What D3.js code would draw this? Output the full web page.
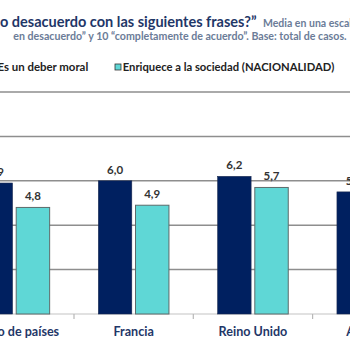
<!DOCTYPE html>
<html><head><meta charset="utf-8">
<script src="https://cdn.jsdelivr.net/npm/d3@7"></script>
<style>html,body{margin:0;padding:0;background:#fff;overflow:hidden}svg{display:block}</style>
</head><body>
<svg id="c" width="350" height="350"></svg>
<script>
const categories = ["Grupo de países", "Francia", "Reino Unido", "Alemania"];
const seriesNames = ["Es un deber moral", "Enriquece a la sociedad (NACIONALIDAD)"];
const deberMoral = [5.9, 6.0, 6.2, 5.5];
const enriquece = [4.8, 4.9, 5.7, null];
const yTicks = [0, 2, 4, 6, 8, 10];
const titleText = "o desacuerdo con las siguientes frases?”";
const subtitle1 = "Media en una escala";
const subtitle2 = "en desacuerdo” y 10 “completamente de acuerdo”. Base: total de casos.";

const colors = ["#002060", "#5fd7d6"];
const FONT = "Lato, 'Open Sans', sans-serif";

const svg = d3.select("#c");
const W = 350;

function fit(sel, target) {
  const node = sel.node();
  const fs = parseFloat(sel.attr("font-size"));
  const len = node.getComputedTextLength();
  sel.attr("font-size", (fs * target / len).toFixed(2));
  return sel;
}

// scales
const step = 119.3;
const x0 = d3.scaleBand().domain(categories).range([14.35 - step / 2, 14.35 - step / 2 + step * categories.length]).padding(0);
const y = d3.scaleLinear().domain([0, 10]).range([314, 92]);
const groupW = 70.6;
const x1 = d3.scaleBand().domain([0, 1]).range([0, groupW]).paddingInner(0.1).paddingOuter(0);

// gridlines
svg.append("g").selectAll("line").data(yTicks.filter(d => d > 0)).join("line")
  .attr("x1", 0).attr("x2", W)
  .attr("y1", d => y(d)).attr("y2", d => y(d))
  .attr("stroke", "#8e8e8e").attr("stroke-width", 1.5);

// baseline axis with category tick marks
const xAxis = d3.axisBottom(x0).tickSize(0).tickFormat("");
const axG = svg.append("g").attr("transform", `translate(0,${y(0)})`).call(xAxis);
axG.select(".domain").attr("stroke", "#c4c4c4").attr("stroke-width", 1.2).attr("d", `M0,0H${W}`);
const bounds = categories.slice(1).map(c => x0(c));
axG.selectAll(".sep").data(bounds).join("line").attr("class", "sep")
  .attr("x1", d => d).attr("x2", d => d).attr("y1", 0).attr("y2", 5)
  .attr("stroke", "#b8b8b8").attr("stroke-width", 1.2);

// bars
const rows = categories.map((c, i) => ({ c, vals: [deberMoral[i], enriquece[i]] }));
const g = svg.append("g");
rows.forEach(r => {
  const gx = x0(r.c) + x0.bandwidth() / 2 - groupW / 2;
  r.vals.forEach((v, s) => {
    if (v == null) return;
    const bx = gx + x1(s);
    g.append("rect")
      .attr("x", bx).attr("y", y(v))
      .attr("width", x1.bandwidth()).attr("height", y(0) - y(v))
      .attr("fill", colors[s])
      .attr("stroke", s === 0 ? "#1a2a50" : "#5c6b6b").attr("stroke-width", s === 0 ? 0.6 : 1);
    g.append("text")
      .attr("x", bx + x1.bandwidth() / 2).attr("y", y(v) - 7)
      .attr("text-anchor", "middle").attr("font-family", FONT).attr("font-weight", "bold")
      .attr("font-size", 11.5).attr("fill", "#333")
      .text(d3.format(".1f")(v).replace(".", ","));
  });
});

// category labels
const catLabels = svg.append("g").selectAll("text").data(categories).join("text")
  .attr("x", d => x0(d) + x0.bandwidth() / 2).attr("y", 336)
  .attr("text-anchor", "middle").attr("font-family", FONT).attr("font-weight", "bold")
  .attr("font-size", 12.5).attr("fill", "#1f3768")
  .text(d => d);
{
  const ref = catLabels.filter(d => d === "Reino Unido");
  const len = ref.node().getComputedTextLength();
  catLabels.attr("font-size", (12.5 * 68.7 / len).toFixed(2));
}

// legend
const lg = svg.append("g");
lg.append("rect").attr("x", -12).attr("y", 64).attr("width", 6).attr("height", 6)
  .attr("fill", colors[0]).attr("stroke", "#333").attr("stroke-width", 0.8);
const l1 = lg.append("text").attr("x", -2.5).attr("y", 70.5)
  .attr("font-family", FONT).attr("font-weight", "bold").attr("font-size", 11).attr("fill", "#222")
  .text(seriesNames[0]);
fit(l1, 90.8);
lg.append("rect").attr("x", 115).attr("y", 64).attr("width", 6).attr("height", 6)
  .attr("fill", colors[1]).attr("stroke", "#333").attr("stroke-width", 0.8);
const l2 = lg.append("text").attr("x", 122.7).attr("y", 70.5)
  .attr("font-family", FONT).attr("font-weight", "bold").attr("font-size", 11).attr("fill", "#222")
  .text(seriesNames[1]);
fit(l2, 211.6);

// title
const t = svg.append("text").attr("x", 0).attr("y", 27)
  .attr("font-family", FONT).attr("font-weight", "bold").attr("font-size", 16).attr("fill", "#1f3768")
  .text(titleText);
fit(t, 256.7);
svg.append("text").attr("x", 263).attr("y", 26.5)
  .attr("font-family", FONT).attr("font-weight", "bold").attr("font-size", 10.5).attr("fill", "#6b7c98")
  .text(subtitle1);
const s2 = svg.append("text").attr("x", 13.3).attr("y", 39.5)
  .attr("font-family", FONT).attr("font-weight", "bold").attr("font-size", 10.5).attr("fill", "#6b7c98")
  .text(subtitle2);
fit(s2, 333.4);
</script>
</body></html>
